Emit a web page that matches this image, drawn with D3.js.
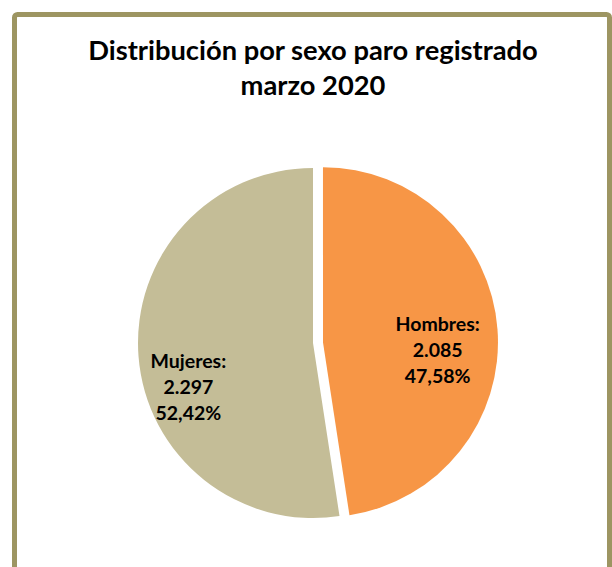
<!DOCTYPE html>
<html lang="es">

<head>
  <meta charset="UTF-8" />
  <title>Paro registrado por sexo</title>
  <style>
    body {
      margin: 0;
      background: #fff;
    }

    text {
      font-family: Lato, "Open Sans", sans-serif;
      font-weight: bold;
      fill: #000;
      text-anchor: middle;
    }
  </style>
</head>

<body>
  <div class="container"></div>

  <script src="https://d3js.org/d3.v7.min.js"></script>
  <script>
    // datos
    const categories = ['Hombres', 'Mujeres'];
    const values = [2085, 2297];
    const titleLines = ['Distribución por sexo paro registrado', 'marzo 2020'];

    const colors = ['#F79646', '#C4BD97'];

    const width = 612, height = 567;
    const cx = 313, cy = 343, radius = 175;
    const explode = [10, 0];
    // ajuste de etiquetas (como "mejor ajuste" de Excel)
    const labelRadius = [115, 125];
    const labelNudge = [[0, 23], [0, 42]];

    const es = d3.formatLocale({ decimal: ',', thousands: '.', grouping: [3], currency: ['', ' €'] });
    const fmtNum = es.format(',d');
    const fmtPct = es.format('.2%');

    const svg = d3.select('.container').append('svg')
      .attr('width', width)
      .attr('height', height);

    // marco
    svg.append('rect')
      .attr('x', 14.5)
      .attr('y', 14.5)
      .attr('width', 595)
      .attr('height', 600)
      .attr('rx', 3)
      .attr('fill', 'none')
      .attr('stroke', '#9D9562')
      .attr('stroke-width', 5);

    // título
    const title = svg.append('text')
      .attr('x', 313)
      .attr('y', 60)
      .style('font-size', '22px');

    title.selectAll('tspan')
      .data(titleLines)
      .join('tspan')
      .attr('x', 313)
      .attr('dy', (d, i) => i ? 35 : 0)
      .text(d => d);

    // el Calibri original es más ancho: ajustar tamaño al ancho de la primera línea
    const w0 = title.select('tspan').node().getComputedTextLength();
    title.style('font-size', (22 * 449 / w0).toFixed(1) + 'px');

    const total = d3.sum(values);
    const data = categories.map((c, i) => ({ name: c, value: values[i], index: i }));

    const pie = d3.pie().sort(null).value(d => d.value);
    const arcs = pie(data);
    const arcGen = d3.arc().innerRadius(0).outerRadius(radius);

    const g = svg.append('g').attr('transform', `translate(${cx},${cy})`);

    const slice = g.selectAll('g.slice')
      .data(arcs)
      .join('g')
      .attr('class', 'slice')
      .attr('transform', d => {
        const a = (d.startAngle + d.endAngle) / 2;
        const e = explode[d.index];
        return `translate(${e * Math.sin(a)},${-e * Math.cos(a)})`;
      });

    slice.append('path')
      .attr('d', arcGen)
      .attr('fill', d => colors[d.index]);

    slice.append('text')
      .style('font-size', '19.5px')
      .each(function (d) {
        const a = (d.startAngle + d.endAngle) / 2;
        const r = labelRadius[d.index];
        const x = r * Math.sin(a) + labelNudge[d.index][0];
        const y = -r * Math.cos(a) + labelNudge[d.index][1];
        const lines = [d.data.name + ':', fmtNum(d.data.value), fmtPct(d.data.value / total)];
        d3.select(this)
          .selectAll('tspan')
          .data(lines)
          .join('tspan')
          .attr('x', x)
          .attr('y', (l, i) => y + (i - 1) * 26)
          .text(l => l);
      });
  </script>
</body>

</html>
